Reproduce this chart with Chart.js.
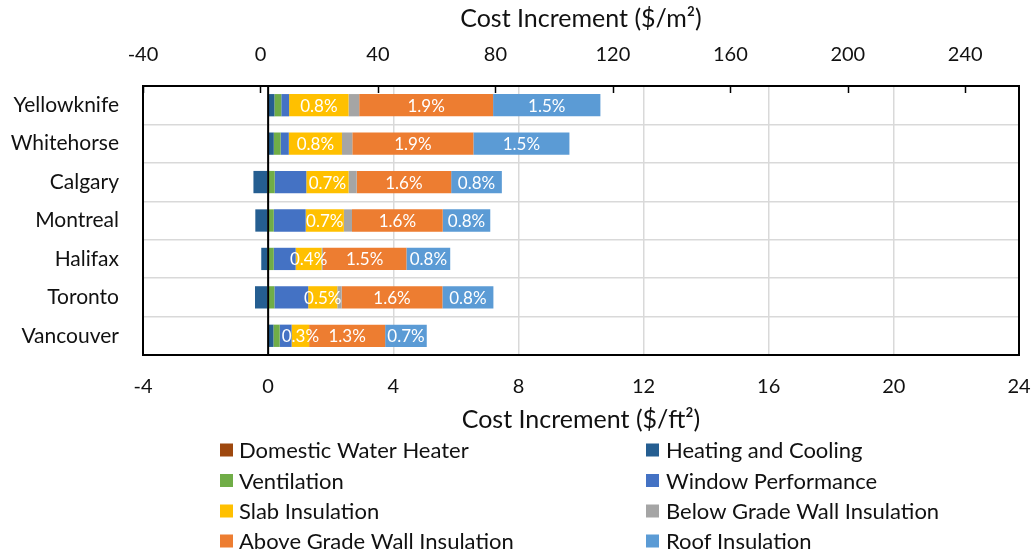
<!DOCTYPE html>
<html>
<head>
<meta charset="utf-8">
<script src="https://cdn.jsdelivr.net/npm/chart.js@4.4.1/dist/chart.umd.min.js"></script>
<style>
  html, body { margin: 0; padding: 0; background: #fff; }
  #wrap { width: 1036px; height: 552px; position: relative; }
</style>
</head>
<body>
<div id="wrap"><canvas id="c" width="1036" height="552"></canvas></div>
<script>
// Cost increment per city, $/ft², by building component
const cities = ['Yellowknife', 'Whitehorse', 'Calgary', 'Montreal', 'Halifax', 'Toronto', 'Vancouver'];
const domesticWaterHeater = [0, 0, 0, 0, 0, 0, 0];
const heatingCooling      = [0.20, 0.18, -0.47, -0.41, -0.22, -0.42, 0.17];
const ventilation         = [0.22, 0.22, 0.21, 0.18, 0.18, 0.20, 0.20];
const windowPerformance   = [0.25, 0.26, 1.01, 1.02, 0.70, 1.08, 0.38];
const slabInsulation      = [1.90, 1.70, 1.35, 1.22, 0.83, 0.93, 0.56];
const belowGradeWall      = [0.34, 0.33, 0.26, 0.26, 0.04, 0.14, 0];
const aboveGradeWall      = [4.28, 3.87, 3.02, 2.90, 2.67, 3.22, 2.43];
const roofInsulation      = [3.43, 3.07, 1.62, 1.52, 1.40, 1.63, 1.33];

// Share-of-cost labels printed on three of the segments
const slabLabels  = ['0.8%', '0.8%', '0.7%', '0.7%', '0.4%', '0.5%', '0.3%'];
const aboveLabels = ['1.9%', '1.9%', '1.6%', '1.6%', '1.5%', '1.6%', '1.3%'];
const roofLabels  = ['1.5%', '1.5%', '0.8%', '0.8%', '0.8%', '0.8%', '0.7%'];

// Axis ticks: bottom in $/ft², top in $/m²
const ftTicks = [-4, 0, 4, 8, 12, 16, 20, 24];
const m2Ticks = [-40, 0, 40, 80, 120, 160, 200, 240];
const ftMin = -4, ftMax = 24;
const m2Min = -40, m2Max = 258.3;

const FONT = 'Lato';
const TEXT = '#111';

const series = [
  { label: 'Domestic Water Heater',       data: domesticWaterHeater, color: '#9E480E' },
  { label: 'Heating and Cooling',         data: heatingCooling,      color: '#255E91' },
  { label: 'Ventilation',                 data: ventilation,         color: '#70AD47' },
  { label: 'Window Performance',          data: windowPerformance,   color: '#4472C4' },
  { label: 'Slab Insulation',             data: slabInsulation,      color: '#FFC000', tags: slabLabels },
  { label: 'Below Grade Wall Insulation', data: belowGradeWall,      color: '#A5A5A5' },
  { label: 'Above Grade Wall Insulation', data: aboveGradeWall,      color: '#ED7D31', tags: aboveLabels },
  { label: 'Roof Insulation',             data: roofInsulation,      color: '#5B9BD5', tags: roofLabels }
];

// horizontal axes: fixed height, no extra side padding for end labels
function fixHorizontal(height) {
  return s => { s.height = height; s.paddingLeft = 0; s.paddingRight = 0; };
}

// Frame, zero line, inward top ticks, segment labels and two-column legend
const decorations = {
  id: 'decorations',
  afterDatasetsDraw(chart) {
    const ctx = chart.ctx;
    const area = chart.chartArea;
    // segment labels
    ctx.save();
    ctx.font = '17px ' + FONT;
    ctx.fillStyle = '#fff';
    ctx.textAlign = 'center';
    ctx.textBaseline = 'middle';
    chart.data.datasets.forEach((ds, di) => {
      if (!ds.tags) return;
      const meta = chart.getDatasetMeta(di);
      meta.data.forEach((el, i) => {
        if (!ds.data[i]) return;
        const cx = (el.x + el.base) / 2;
        ctx.fillText(ds.tags[i], cx, el.y + 1);
      });
    });
    ctx.restore();

    // zero line
    const x0 = chart.scales.x.getPixelForValue(0);
    ctx.save();
    ctx.strokeStyle = '#000';
    ctx.lineWidth = 2;
    ctx.beginPath();
    ctx.moveTo(x0, area.top);
    ctx.lineTo(x0, area.bottom);
    ctx.stroke();

    // plot frame
    ctx.lineWidth = 2;
    ctx.strokeRect(area.left, area.top, area.right - area.left, area.bottom - area.top);

    // inward tick marks of the top axis
    ctx.lineWidth = 1.5;
    const x2 = chart.scales.x2;
    x2.ticks.forEach(t => {
      const px = Math.round(x2.getPixelForValue(t.value)) + 0.5;
      ctx.beginPath();
      ctx.moveTo(px, area.top);
      ctx.lineTo(px, area.top + 7);
      ctx.stroke();
    });
    ctx.restore();
  },
  afterDraw(chart) {
    const ctx = chart.ctx;
    const cols = [{ box: 220, text: 239 }, { box: 646, text: 666 }];
    const rows = [450, 480.5, 511, 541];
    ctx.save();
    ctx.font = '22px ' + FONT;
    ctx.textBaseline = 'middle';
    ctx.textAlign = 'left';
    chart.data.datasets.forEach((ds, i) => {
      const c = cols[i % 2];
      const y = rows[Math.floor(i / 2)];
      ctx.fillStyle = ds.backgroundColor;
      ctx.fillRect(c.box, y - 6.5, 13, 13);
      ctx.fillStyle = TEXT;
      ctx.fillText(ds.label, c.text, y + 1);
    });
    ctx.restore();
  }
};

new Chart(document.getElementById('c'), {
  type: 'bar',
  data: {
    labels: cities,
    datasets: series.map(s => ({
      label: s.label,
      data: s.data,
      backgroundColor: s.color,
      borderWidth: 0,
      tags: s.tags,
      categoryPercentage: 1,
      barPercentage: 0.58
    }))
  },
  options: {
    indexAxis: 'y',
    responsive: false,
    animation: false,
    layout: { padding: { left: 0, right: 17, top: 0, bottom: 115 } },
    plugins: {
      legend: { display: false },
      tooltip: { enabled: false }
    },
    scales: {
      x: {
        position: 'bottom',
        stacked: true,
        min: ftMin,
        max: ftMax,
        afterBuildTicks: s => { s.ticks = ftTicks.map(v => ({ value: v })); },
        afterFit: fixHorizontal(82),
        grid: { color: '#D9D9D9', lineWidth: 1.5, drawTicks: false },
        border: { display: false },
        ticks: { padding: 20, color: TEXT, font: { family: FONT, size: 20 } },
        title: {
          display: true,
          text: 'Cost Increment ($/ft²)',
          color: TEXT,
          font: { family: FONT, size: 25 },
          padding: { top: 0, bottom: 2 }
        }
      },
      x2: {
        position: 'top',
        type: 'linear',
        min: m2Min,
        max: m2Max,
        afterBuildTicks: s => { s.ticks = m2Ticks.map(v => ({ value: v })); },
        afterFit: fixHorizontal(86),
        grid: { display: false, drawTicks: false },
        border: { display: false },
        ticks: { padding: 19, color: TEXT, font: { family: FONT, size: 20 } },
        title: {
          display: true,
          text: 'Cost Increment ($/m²)',
          color: TEXT,
          font: { family: FONT, size: 25 },
          padding: { top: 4, bottom: 0 }
        }
      },
      y: {
        stacked: true,
        afterFit: s => { s.width = 143; },
        grid: { color: '#D9D9D9', lineWidth: 1.5, offset: true, drawTicks: false },
        border: { display: false },
        ticks: { padding: 24, color: TEXT, font: { family: FONT, size: 21 } }
      }
    }
  },
  plugins: [decorations]
});
</script>
</body>
</html>
